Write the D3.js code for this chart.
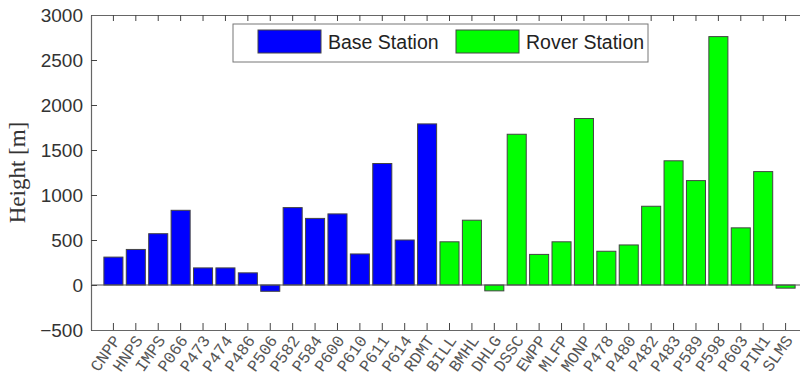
<!DOCTYPE html>
<html>
<head>
<meta charset="utf-8">
<script src="https://cdn.jsdelivr.net/npm/d3@7"></script>
<style>
  body { margin: 0; background: #fff; }
  svg { display: block; }
  .tick-y { font-family: 'Liberation Sans', Arial, sans-serif; font-size: 19px; fill: #333; }
  .tick-x { font-family: 'Liberation Mono', 'Courier New', monospace; font-size: 16.5px; fill: #555; }
  .y-title { font-family: 'Liberation Serif', 'Times New Roman', serif; font-size: 23px; fill: #333; }
  .legend-text { font-family: 'Liberation Sans', Arial, sans-serif; font-size: 19.5px; fill: #222; }
</style>
</head>
<body>
<div id="chart"></div>
<script>
var baseStations = ['CNPP', 'HNPS', 'IMPS', 'P066', 'P473', 'P474', 'P486', 'P506',
  'P582', 'P584', 'P600', 'P610', 'P611', 'P614', 'RDMT'];
var baseHeights = [310, 395, 570, 830, 190, 190, 135, -70,
  860, 740, 790, 345, 1350, 500, 1790];

var roverStations = ['BILL', 'BMHL', 'DHLG', 'DSSC', 'EWPP', 'MLFP', 'MONP', 'P478',
  'P480', 'P482', 'P483', 'P589', 'P598', 'P603', 'PIN1', 'SLMS'];
var roverHeights = [480, 720, -65, 1675, 340, 480, 1850, 375,
  445, 875, 1380, 1160, 2760, 635, 1260, -35];

var yTicks = [-500, 0, 500, 1000, 1500, 2000, 2500, 3000];
var legendLabels = ['Base Station', 'Rover Station'];
var groupColors = ['#0000ff', '#00ff00'];

(function() {
  'use strict';

  var svgWidth = 800,
    svgHeight = 383,
    margin = { top: 15, left: 91, right: -8, bottom: 53 },
    width = svgWidth - margin.left - margin.right,
    height = svgHeight - margin.top - margin.bottom,
    tickLen = 6;

  var rows = baseStations.map(function(s, i) {
    return { name: s, value: baseHeights[i], group: 0 };
  }).concat(roverStations.map(function(s, i) {
    return { name: s, value: roverHeights[i], group: 1 };
  }));

  var svg = d3.select('#chart')
    .append('svg')
    .attr('width', svgWidth)
    .attr('height', svgHeight);

  var g = svg.append('g')
    .attr('transform', 'translate(' + margin.left + ',' + margin.top + ')');

  // outer padding keeps the first and last bar one step in from the box
  var x = d3.scaleBand()
    .domain(rows.map(function(d) { return d.name; }))
    .range([0, width])
    .paddingInner(0.15)
    .paddingOuter(0.575);

  var y = d3.scaleLinear()
    .domain([-500, 3000])
    .range([height, 0]);

  // bars
  g.selectAll('rect.bar')
    .data(rows)
    .enter().append('rect')
    .attr('class', 'bar')
    .attr('x', function(d) { return x(d.name); })
    .attr('width', x.bandwidth())
    .attr('y', function(d) { return y(Math.max(0, d.value)); })
    .attr('height', function(d) { return Math.abs(y(d.value) - y(0)); })
    .attr('fill', function(d) { return groupColors[d.group]; })
    .attr('stroke', '#444')
    .attr('stroke-width', 1);

  // zero baseline
  g.append('line')
    .attr('x1', 0)
    .attr('x2', width)
    .attr('y1', y(0))
    .attr('y2', y(0))
    .attr('stroke', '#555')
    .attr('stroke-width', 1);

  // box axes, matlab style with inward ticks
  var leftAxis = d3.axisLeft(y).tickValues(yTicks).tickFormat(d3.format('d'))
    .tickSizeInner(-tickLen).tickSizeOuter(0).tickPadding(8);
  var rightAxis = d3.axisRight(y).tickValues(yTicks).tickSizeInner(-tickLen).tickSizeOuter(0).tickFormat('');
  var bottomAxis = d3.axisBottom(x).tickSizeInner(-tickLen - 1).tickSizeOuter(0).tickFormat('');
  var topAxis = d3.axisTop(x).tickSizeInner(-tickLen).tickSizeOuter(0).tickFormat('');

  var yl = g.append('g').call(leftAxis);
  yl.selectAll('text').attr('class', 'tick-y').attr('dy', '0.36em');

  g.append('g').attr('transform', 'translate(' + width + ',0)').call(rightAxis);
  g.append('g').attr('transform', 'translate(0,' + height + ')').call(bottomAxis);
  g.append('g').call(topAxis);

  g.selectAll('.domain').attr('stroke', '#666').attr('stroke-width', 1.2);
  g.selectAll('.tick line').attr('stroke', '#444');

  // rotated station names
  g.selectAll('text.tick-x')
    .data(rows)
    .enter().append('text')
    .attr('class', 'tick-x')
    .attr('text-anchor', 'end')
    .attr('transform', function(d) {
      return 'translate(' + (x(d.name) + x.bandwidth() / 2 + 3) + ',' + (height + 7) + ') rotate(-55)';
    })
    .attr('dy', '0.35em')
    .text(function(d) { return d.name; });

  g.append('text')
    .attr('class', 'y-title')
    .attr('text-anchor', 'middle')
    .attr('transform', 'translate(-66,' + y(1250) + ') rotate(-90)')
    .text('Height [m]');

  // legend
  var legend = g.append('g')
    .attr('transform', 'translate(' + (233 - margin.left) + ',' + (24 - margin.top) + ')');

  legend.append('rect')
    .attr('width', 415)
    .attr('height', 38)
    .attr('fill', '#fff')
    .attr('stroke', '#777')
    .attr('stroke-width', 1);

  var entryX = [25, 223];
  legendLabels.forEach(function(label, i) {
    legend.append('rect')
      .attr('x', entryX[i])
      .attr('y', 6)
      .attr('width', 63)
      .attr('height', 23)
      .attr('fill', groupColors[i])
      .attr('stroke', '#444');

    legend.append('text')
      .attr('class', 'legend-text')
      .attr('x', entryX[i] + 70)
      .attr('y', 25)
      .text(label);
  });
})();
</script>
</body>
</html>
